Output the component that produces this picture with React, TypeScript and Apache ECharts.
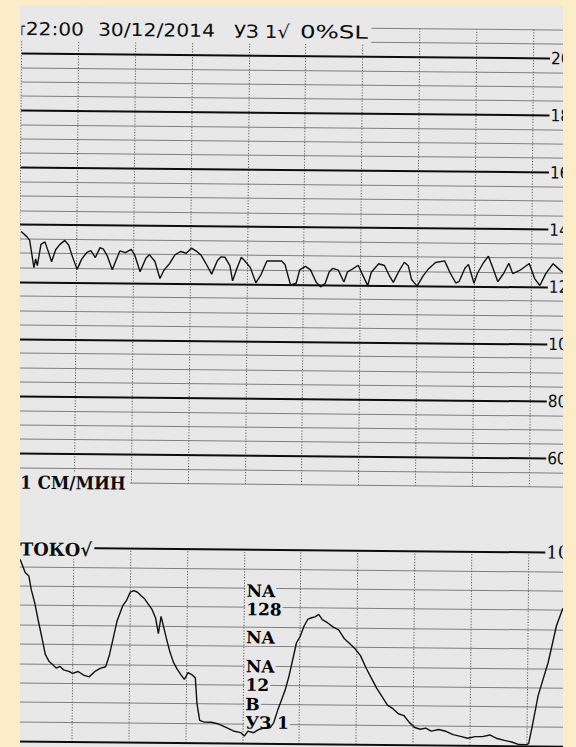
import React, { useEffect, useRef } from "react";
import * as echarts from "echarts";

// ---------- data ----------
// fetal heart rate trace: [minute, bpm]
const fhrSamples: number[][] = [
  [0.02, 137.6], [0.12, 135.8], [0.17, 134.6], [0.25, 125.0], [0.28, 128.0], [0.31, 125.7],
  [0.37, 133.1], [0.44, 134.0], [0.5, 130.7], [0.56, 127.1], [0.63, 131.3], [0.7, 133.1],
  [0.79, 134.6], [0.86, 132.9], [0.92, 129.3], [1.01, 124.5], [1.09, 128.1], [1.18, 130.5],
  [1.25, 131.1], [1.33, 128.7], [1.41, 132.2], [1.47, 131.7], [1.54, 129.3], [1.63, 124.5],
  [1.7, 128.1], [1.76, 131.1], [1.86, 130.5], [1.96, 131.7], [2.02, 129.9], [2.12, 123.9],
  [2.22, 128.6], [2.28, 129.9], [2.38, 127.5], [2.47, 121.6], [2.54, 124.5], [2.64, 126.9],
  [2.73, 129.9], [2.83, 131.1], [2.93, 130.5], [3.02, 132.3], [3.12, 131.1], [3.19, 129.9],
  [3.28, 126.9], [3.38, 123.3], [3.48, 128.1], [3.54, 129.3], [3.61, 129.3], [3.7, 126.3],
  [3.75, 121.0], [3.83, 125.7], [3.9, 129.3], [3.96, 128.1], [4.06, 125.7], [4.16, 120.4],
  [4.25, 123.3], [4.35, 128.1], [4.48, 128.1], [4.61, 128.1], [4.67, 126.9], [4.77, 119.8],
  [4.87, 120.4], [4.93, 125.1], [5.03, 126.3], [5.12, 125.1], [5.22, 120.9], [5.3, 119.2],
  [5.38, 120.4], [5.45, 124.5], [5.51, 125.7], [5.61, 125.1], [5.71, 121.0], [5.77, 124.5],
  [5.87, 125.7], [5.96, 126.9], [6.03, 123.9], [6.13, 119.8], [6.19, 124.5], [6.32, 127.5],
  [6.42, 126.9], [6.51, 123.3], [6.58, 121.0], [6.68, 125.1], [6.77, 128.1], [6.84, 126.9],
  [6.9, 122.1], [7.0, 119.8], [7.1, 123.3], [7.19, 125.7], [7.32, 128.1], [7.48, 128.7],
  [7.58, 124.5], [7.68, 121.0], [7.74, 121.6], [7.84, 126.3], [7.9, 127.5], [8.0, 121.0],
  [8.06, 124.5], [8.16, 128.1], [8.25, 130.5], [8.32, 126.9], [8.42, 121.6], [8.52, 124.5],
  [8.61, 128.1], [8.68, 124.5], [8.81, 125.7], [8.97, 128.1], [9.07, 122.7], [9.16, 120.4],
  [9.26, 124.5], [9.39, 128.1], [9.49, 126.3], [9.56, 125.1],
];

// uterine activity (TOCO) trace: [minute, units]
const tocoSamples: number[][] = [
  [0.0, 95], [0.065, 93], [0.148, 86.8], [0.213, 85], [0.258, 78], [0.323, 71], [0.387, 62],
  [0.452, 53.5], [0.516, 44.7], [0.581, 41.2], [0.645, 39.5], [0.71, 37.7], [0.774, 38.6],
  [0.839, 36.8], [0.935, 36], [1.0, 35], [1.097, 36], [1.194, 34.2], [1.29, 33.3], [1.387, 36],
  [1.484, 37.7], [1.58, 38.6], [1.645, 44.7], [1.71, 53.5], [1.774, 62.3], [1.871, 70.2],
  [1.935, 72.8], [2.0, 77.2], [2.065, 78], [2.129, 77.2], [2.194, 75.4], [2.258, 73.7],
  [2.323, 71], [2.387, 68.4], [2.452, 64], [2.503, 56], [2.548, 64.9], [2.6, 58.8],
  [2.645, 53.5], [2.71, 46.5], [2.774, 41.2], [2.839, 37.7], [2.903, 35], [2.968, 32.5],
  [3.032, 36], [3.097, 35], [3.161, 33.3], [3.194, 20.2], [3.245, 11.4], [3.323, 10.5],
  [3.452, 10.5], [3.581, 9.6], [3.71, 7.9], [3.839, 6.1], [3.968, 5.3], [4.032, 3.5],
  [4.097, 6.1], [4.194, 5.3], [4.29, 7], [4.387, 7.9], [4.484, 7.9], [4.548, 10.5],
  [4.613, 16.7], [4.677, 21.9], [4.742, 27.2], [4.806, 34.2], [4.871, 43], [4.935, 51.8],
  [5.0, 55.3], [5.065, 60.5], [5.129, 64], [5.194, 64.9], [5.258, 65.4], [5.323, 66.7],
  [5.387, 64], [5.484, 62.3], [5.581, 60.2], [5.677, 58.8], [5.774, 54.4], [5.871, 51.8],
  [5.968, 49.1], [6.065, 45.6], [6.161, 39.5], [6.258, 34.2], [6.355, 28.9], [6.452, 24.6],
  [6.548, 20.2], [6.645, 18.4], [6.742, 15.8], [6.839, 14.9], [6.935, 11.4], [7.032, 8.8],
  [7.129, 7.9], [7.226, 8.5], [7.323, 7], [7.452, 7.9], [7.581, 7], [7.71, 5.3], [7.839, 4.4],
  [7.968, 3.5], [8.097, 4.4], [8.226, 4.4], [8.355, 5.3], [8.484, 3.5], [8.613, 2.6],
  [8.742, 1.8], [8.871, 0.5], [9.0, 0.5], [9.04, 1], [9.1, 10], [9.2, 26], [9.37, 43],
  [9.51, 62], [9.62, 71],
];

const fhrMajorLevels = [60, 80, 100, 120, 140, 160, 180, 200];
const fhrMajorLabels = ["60", "80", "100", "120", "140", "160", "180", "200"];
const tocoTopLevel = 100;
const tocoTopLabel = "100";
const tocoBaseLevel = 0;

const annotationTexts = ["NA", "128", "NA", "NA", "12", "B", "УЗ 1"];
const annotationLevels = [78.5, 69, 54.5, 39.5, 30, 20, 10.5];
const annotationMinute = 4.02;

const headerTexts = ["г", "22:00", "30/12/2014", "УЗ 1√", "0%SL"];
const speedText = "1 СМ/МИН";
const tocoText = "ТОКО√";

// ---------- layout & style ----------
const W = 576;
const H = 747;
const ROT = 0.55;
const PAPER = "#e8e8e8";
const FRAME = "#fdecc8";
const INK = "#0d0d0d";
const MINOR = "#7f7f7f";
const GRID_LEFT = 18.7;
const GRID_RIGHT = 5;
const PX_PER_MIN = 56.8;
const X_MAX = (W - GRID_LEFT - GRID_RIGHT) / PX_PER_MIN;
const MAJOR_END = (547 - GRID_LEFT) / PX_PER_MIN;
const FHR_TOP = 27.1;
const FHR_BOTTOM = 484.3;
const TOCO_TOP = 549.5;
const TOCO_BOTTOM = 743.3;
const NARROW_SANS = '"Liberation Sans Narrow", "DejaVu Sans Condensed", "DejaVu Sans"';

const headerSpans = [
  [17.2, 22.2],
  [22.5, 80.7],
  [94.7, 211.7],
  [230.7, 286.7],
  [296.7, 364.7],
];
const HEADER_Y = 31.5;

function measure(text: string, size: number, family: string, weight: string): number {
  const ctx = document.createElement("canvas").getContext("2d");
  if (!ctx) return text.length * size * 0.6;
  ctx.font = `${weight} ${size}px "${family}"`;
  return ctx.measureText(text).width;
}

function fitText(
  text: string,
  family: string,
  size: number,
  weight: string,
  x0: number,
  x1: number,
  y: number
) {
  const w = measure(text, size, family, weight);
  return {
    type: "text",
    x: x0,
    y,
    scaleX: (x1 - x0) / w,
    z: 101,
    silent: true,
    style: {
      text,
      fontSize: size,
      fontFamily: family,
      fontWeight: weight,
      fill: INK,
      align: "left",
      verticalAlign: "middle",
    },
  };
}

export default function App() {
  const ref = useRef<HTMLDivElement>(null);

  useEffect(() => {
    const el = ref.current;
    if (!el) return;
    const chart = echarts.init(el, undefined, { renderer: "svg" });

    const xAxisBase = (gridIndex: number) => ({
      type: "value",
      gridIndex,
      min: 0,
      max: X_MAX,
      interval: 1,
      axisLine: { show: false },
      axisTick: { show: false },
      axisLabel: { show: false },
      splitLine: { show: true, lineStyle: { color: "#5e5e5e", width: 1, type: [1.2, 1.6] } },
    });

    const tocoSplitColors = ["transparent"];
    for (let i = 0; i < 9; i++) tocoSplitColors.push(MINOR);
    tocoSplitColors.push("transparent");

    const option: any = {
      animation: false,
      grid: [
        { left: GRID_LEFT, right: GRID_RIGHT, top: FHR_TOP, height: FHR_BOTTOM - FHR_TOP },
        { left: GRID_LEFT, right: GRID_RIGHT, top: TOCO_TOP, height: TOCO_BOTTOM - TOCO_TOP },
      ],
      xAxis: [xAxisBase(0), xAxisBase(1)],
      yAxis: [
        {
          type: "value",
          gridIndex: 0,
          min: 50,
          max: 210,
          interval: 5,
          axisLine: { show: false },
          axisTick: { show: false },
          axisLabel: { show: false },
          splitLine: { show: true, lineStyle: { color: [MINOR, MINOR, "transparent", MINOR], width: 1 } },
        },
        {
          type: "value",
          gridIndex: 1,
          min: 0,
          max: 100,
          interval: 10,
          axisLine: { show: false },
          axisTick: { show: false },
          axisLabel: { show: false },
          splitLine: { show: true, lineStyle: { color: tocoSplitColors, width: 1 } },
        },
      ],
      series: [
        {
          type: "line",
          xAxisIndex: 0,
          yAxisIndex: 0,
          data: fhrSamples,
          showSymbol: false,
          symbol: "none",
          z: 3,
          lineStyle: { color: "#111111", width: 1.4 },
          markLine: {
            silent: true,
            symbol: ["none", "none"],
            lineStyle: { color: INK, width: 2, type: "solid" },
            label: {
              show: true,
              position: "end",
              distance: 1,
              color: INK,
              fontSize: 17,
              fontFamily: NARROW_SANS,
              formatter: (p: any) => p.name,
            },
            data: fhrMajorLevels.map((v, i) => [
              { coord: [0, v], name: fhrMajorLabels[i] },
              { coord: [MAJOR_END, v], name: fhrMajorLabels[i] },
            ]),
          },
        },
        {
          type: "line",
          xAxisIndex: 1,
          yAxisIndex: 1,
          data: tocoSamples,
          showSymbol: false,
          symbol: "none",
          z: 3,
          lineStyle: { color: "#111111", width: 1.4 },
          markLine: {
            silent: true,
            symbol: ["none", "none"],
            lineStyle: { color: INK, width: 2, type: "solid" },
            label: {
              show: true,
              position: "end",
              distance: 1,
              color: INK,
              fontSize: 18,
              fontFamily: "DejaVu Serif",
              formatter: (p: any) => p.name,
            },
            data: [
              [
                { coord: [0, tocoTopLevel], name: tocoTopLabel },
                { coord: [MAJOR_END, tocoTopLevel], name: tocoTopLabel },
              ],
              [
                { coord: [0, tocoBaseLevel], name: "", label: { show: false } },
                { coord: [X_MAX, tocoBaseLevel], name: "" },
              ],
            ],
          },
        },
        {
          type: "scatter",
          xAxisIndex: 1,
          yAxisIndex: 1,
          z: 2,
          symbolSize: 1,
          silent: true,
          itemStyle: { color: "rgba(0,0,0,0)", opacity: 1 },
          data: annotationTexts.map((t, i) => [annotationMinute, annotationLevels[i], t]),
          label: {
            show: true,
            position: "right",
            distance: 0,
            color: "#000000",
            opacity: 1,
            fontSize: 17,
            fontWeight: "bold",
            fontFamily: "DejaVu Serif",
            backgroundColor: PAPER,
            padding: [0, 1, 0, 1],
            formatter: (p: any) => p.data[2],
          },
        },
      ],
      graphic: [
        { type: "rect", z: 100, silent: true, shape: { x: 12, y: 8, width: 356, height: 35.5 }, style: { fill: PAPER } },
        ...headerTexts.map((t, i) =>
          fitText(t, "DejaVu Sans", 18, "normal", headerSpans[i][0], headerSpans[i][1], HEADER_Y)
        ),
        { type: "rect", z: 100, silent: true, shape: { x: 12, y: 474, width: 119, height: 22 }, style: { fill: PAPER } },
        fitText(speedText, "DejaVu Serif", 18, "bold", 21, 127, 485),
        { type: "rect", z: 100, silent: true, shape: { x: 12, y: 541, width: 84, height: 20 }, style: { fill: PAPER } },
        fitText(tocoText, "DejaVu Serif", 18, "bold", 21.7, 93.7, 551.5),
      ],
    };

    chart.setOption(option);
    return () => chart.dispose();
  }, []);

  return (
    <div
      style={{
        position: "fixed",
        left: 0,
        top: 0,
        width: W,
        height: H,
        overflow: "hidden",
        background: PAPER,
      }}
    >
      <div
        ref={ref}
        style={{
          position: "absolute",
          left: 0,
          top: 0,
          width: W,
          height: H,
          transform: `rotate(${ROT}deg)`,
        }}
      />
      <div style={{ position: "absolute", left: 0, top: 0, width: 19.5, height: H, background: FRAME }} />
      <div style={{ position: "absolute", left: 0, top: 0, width: W, height: 4.5, background: FRAME }} />
      <div style={{ position: "absolute", left: 563, top: 0, width: W - 563, height: H, background: FRAME }} />
    </div>
  );
}
